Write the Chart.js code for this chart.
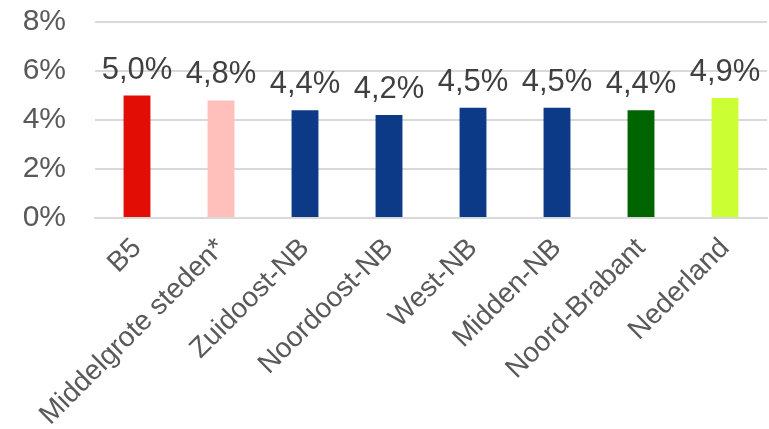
<!DOCTYPE html>
<html>
<head>
<meta charset="utf-8">
<script src="https://cdn.jsdelivr.net/npm/chart.js@4/dist/chart.umd.min.js"></script>
<style>
  html, body { margin: 0; padding: 0; background: #fff; }
  #wrap { width: 769px; height: 429px; }
</style>
</head>
<body>
<div id="wrap"><canvas id="myChart"></canvas></div>
<script>
const categories = [
  'B5', 'Middelgrote steden*', 'Zuidoost-NB', 'Noordoost-NB',
  'West-NB', 'Midden-NB', 'Noord-Brabant', 'Nederland',
];
const values = [5.0, 4.8, 4.4, 4.2, 4.5, 4.5, 4.4, 4.9];
const barColors = [
  '#e20e06', '#ffbfba', '#0c3a87', '#0c3a87',
  '#0c3a87', '#0c3a87', '#006400', '#ccff33',
];
const yTicks = [0, 2, 4, 6, 8];

const fontFamily = '"Liberation Sans", Arial, sans-serif';

const fmt = (v) => v.toFixed(1).replace('.', ',') + '%';

// value labels above the bars
const valueLabels = {
  id: 'valueLabels',
  afterDatasetsDraw: (chart) => {
    const ctx = chart.ctx;
    const meta = chart.getDatasetMeta(0);
    ctx.save();
    ctx.font = '31px ' + fontFamily;
    ctx.fillStyle = '#404040';
    ctx.textAlign = 'center';
    ctx.textBaseline = 'alphabetic';
    meta.data.forEach((bar, i) => {
      ctx.fillText(fmt(values[i]), bar.x, bar.y - 17);
    });
    ctx.restore();
  },
};

const ctx = document.getElementById('myChart').getContext('2d');
new Chart(ctx, {
  type: 'bar',
  data: {
    labels: categories,
    datasets: [
      {
        data: values,
        backgroundColor: barColors,
        borderWidth: 0,
        barPercentage: 0.32,
        categoryPercentage: 1,
      },
    ],
  },
  options: {
    responsive: true,
    maintainAspectRatio: false,
    animation: false,
    devicePixelRatio: 1,
    layout: {
      padding: {top: 22, right: 2, left: 0, bottom: 0},
    },
    plugins: {
      legend: {display: false},
      tooltip: {enabled: false},
    },
    scales: {
      x: {
        grid: {display: false, drawTicks: false},
        border: {display: true, color: '#d9d9d9', width: 2},
        ticks: {
          autoSkip: false,
          minRotation: 45,
          maxRotation: 45,
          padding: 14,
          color: '#595959',
          font: {family: fontFamily, size: 28},
        },
        afterFit: (scale) => {
          scale.height = 211;
        },
      },
      y: {
        min: 0,
        max: 8,
        afterBuildTicks: (scale) => {
          scale.ticks = yTicks.map((v) => ({value: v}));
        },
        grid: {color: '#d9d9d9', lineWidth: 2, drawTicks: false},
        border: {display: false},
        ticks: {
          padding: 29,
          color: '#595959',
          font: {family: fontFamily, size: 30},
          callback: (v) => v + '%',
        },
        afterFit: (scale) => {
          scale.width = 95;
          scale.paddingTop = 0;
          scale.paddingBottom = 0;
        },
      },
    },
  },
  plugins: [valueLabels],
});
</script>
</body>
</html>
